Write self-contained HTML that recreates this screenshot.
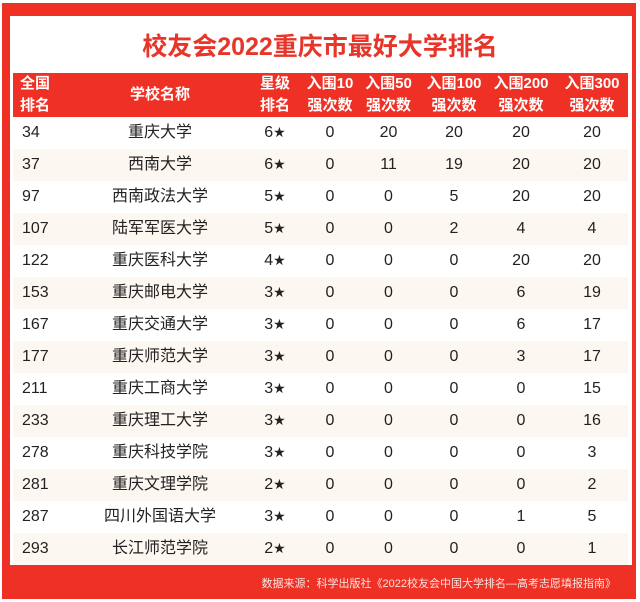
<!DOCTYPE html><html><head><meta charset="utf-8"><style>
body{margin:0;background:#fff;font-family:"Liberation Sans","Noto Sans CJK SC",sans-serif;}
.outer{position:absolute;left:2px;top:3px;width:634px;height:596px;background:#ee3124;}
.panel{position:absolute;left:10px;top:16px;width:622px;height:549px;background:#fff;}
.title{position:absolute;left:0;width:640px;top:27px;text-align:center;font-size:25px;font-weight:bold;color:#e8352a;}
table{position:absolute;left:13px;top:73px;width:615px;border-collapse:collapse;font-size:16px;color:#222;table-layout:fixed;}
th{background:#ee3124;color:#fff;font-weight:bold;height:44px;line-height:22px;font-size:15px;padding:0;}
td{height:32px;padding:0;text-align:center;line-height:32px;vertical-align:middle;}
tr:nth-child(odd) td{background:#fcf7f0;}
td:first-child{text-align:left;padding-left:9px;}
.s{font-family:"DejaVu Sans",sans-serif;font-size:14px;}
.foot{position:absolute;right:24px;top:575px;font-size:11px;color:#fbe3df;}
</style></head><body>
<div class="outer"></div><div class="panel"></div>
<div class="title">校友会2022重庆市最好大学排名</div>
<table>
<colgroup><col style="width:62px"><col style="width:170px"><col style="width:60px"><col style="width:50px"><col style="width:67px"><col style="width:64px"><col style="width:70px"><col style="width:72px"></colgroup>
<tr><th style="text-align:left;padding-left:7px">全国<br>排名</th><th>学校名称</th><th>星级<br>排名</th><th>入围10<br>强次数</th><th>入围50<br>强次数</th><th>入围100<br>强次数</th><th>入围200<br>强次数</th><th>入围300<br>强次数</th></tr>
<tr><td>34</td><td>重庆大学</td><td>6<span class="s">★</span></td><td>0</td><td>20</td><td>20</td><td>20</td><td>20</td></tr>
<tr><td>37</td><td>西南大学</td><td>6<span class="s">★</span></td><td>0</td><td>11</td><td>19</td><td>20</td><td>20</td></tr>
<tr><td>97</td><td>西南政法大学</td><td>5<span class="s">★</span></td><td>0</td><td>0</td><td>5</td><td>20</td><td>20</td></tr>
<tr><td>107</td><td>陆军军医大学</td><td>5<span class="s">★</span></td><td>0</td><td>0</td><td>2</td><td>4</td><td>4</td></tr>
<tr><td>122</td><td>重庆医科大学</td><td>4<span class="s">★</span></td><td>0</td><td>0</td><td>0</td><td>20</td><td>20</td></tr>
<tr><td>153</td><td>重庆邮电大学</td><td>3<span class="s">★</span></td><td>0</td><td>0</td><td>0</td><td>6</td><td>19</td></tr>
<tr><td>167</td><td>重庆交通大学</td><td>3<span class="s">★</span></td><td>0</td><td>0</td><td>0</td><td>6</td><td>17</td></tr>
<tr><td>177</td><td>重庆师范大学</td><td>3<span class="s">★</span></td><td>0</td><td>0</td><td>0</td><td>3</td><td>17</td></tr>
<tr><td>211</td><td>重庆工商大学</td><td>3<span class="s">★</span></td><td>0</td><td>0</td><td>0</td><td>0</td><td>15</td></tr>
<tr><td>233</td><td>重庆理工大学</td><td>3<span class="s">★</span></td><td>0</td><td>0</td><td>0</td><td>0</td><td>16</td></tr>
<tr><td>278</td><td>重庆科技学院</td><td>3<span class="s">★</span></td><td>0</td><td>0</td><td>0</td><td>0</td><td>3</td></tr>
<tr><td>281</td><td>重庆文理学院</td><td>2<span class="s">★</span></td><td>0</td><td>0</td><td>0</td><td>0</td><td>2</td></tr>
<tr><td>287</td><td>四川外国语大学</td><td>3<span class="s">★</span></td><td>0</td><td>0</td><td>0</td><td>1</td><td>5</td></tr>
<tr><td>293</td><td>长江师范学院</td><td>2<span class="s">★</span></td><td>0</td><td>0</td><td>0</td><td>0</td><td>1</td></tr>
</table>
<div class="foot">数据来源：科学出版社《2022校友会中国大学排名—高考志愿填报指南》</div>
</body></html>
